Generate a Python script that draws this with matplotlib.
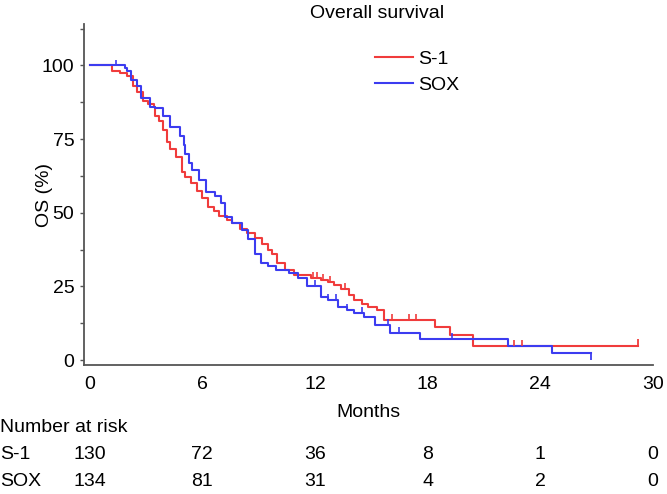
import numpy as np
import matplotlib
matplotlib.use("Agg")
from matplotlib import pyplot as plt
from matplotlib.transforms import blended_transform_factory

plt.rcParams['font.family'] = ['Liberation Sans', 'DejaVu Sans']

# Kaplan-Meier step knots (months, OS %)
s1_t = [0, 1.2, 1.6, 2.0, 2.3, 2.5, 2.85, 3.1, 3.4, 3.5, 3.7, 3.9, 4.1, 4.3, 4.6, 4.9,
        5.1, 5.4, 5.7, 6.0, 6.3, 6.6, 6.9, 7.3, 7.6, 8.0, 8.4, 8.8, 9.2, 9.5, 9.7, 10.0,
        10.4, 10.9, 11.8, 12.3, 12.7, 13.0, 13.4, 13.8, 14.1, 14.5, 14.8, 15.3, 15.7,
        18.4, 19.2, 20.4, 29.2]
s1_s = [100, 98, 97.5, 96.5, 93, 91, 88, 87, 86, 83, 81, 78, 74, 71.5, 69, 64,
        62, 60, 57.5, 55, 52, 50.5, 49, 47.5, 46.5, 44.5, 43, 41.5, 39.5, 37.5, 36, 33,
        30.6, 29, 28, 27.3, 26.5, 25.5, 24, 22, 20.4, 19, 18, 17, 13.6,
        11.3, 8.5, 4.8, 4.8]
s1_cens = [11.9, 12.1, 12.4, 12.8, 13.6, 16.1, 17.0, 17.4, 22.6, 23.0]

sox_t = [0, 1.9, 2.0, 2.2, 2.5, 2.75, 3.2, 3.5, 3.9, 4.3, 4.8, 5.0, 5.1, 5.3, 5.45,
         5.8, 6.2, 6.7, 7.0, 7.2, 7.6, 8.1, 8.45, 8.8, 9.15, 9.5, 9.9, 10.6, 11.1, 11.6,
         12.3, 12.7, 13.2, 13.7, 14.1, 14.6, 15.2, 16.0, 17.6, 22.3, 24.6, 26.7]
sox_s = [100, 99.3, 98, 95, 93, 89, 86, 85.7, 83, 79, 76, 73, 70, 67, 64.6,
         61, 57, 55.6, 53.4, 48.6, 46.6, 44, 41, 36, 33, 32, 30.6, 29.6, 28, 25,
         21.4, 20.4, 18, 17, 16, 14.6, 12, 9.2, 7.1, 4.8, 2.4, 2.4]
sox_cens = [1.4, 12.0, 12.7, 13.1, 13.7, 14.5, 15.9, 16.5, 19.3]

risk_times = [0, 6, 12, 18, 24, 30]
risk_s1 = [130, 72, 36, 8, 1, 0]
risk_sox = [134, 81, 31, 4, 2, 0]

red = '#f03c3c'
blue = '#3c3cf0'
fs = 14


def surv_at(times, surv, x):
    idx = np.searchsorted(times, x, side='right') - 1
    return np.array(surv)[idx]


fig = plt.figure(figsize=(6.67, 4.94), dpi=100)
ax = fig.add_axes([0.126, 0.261, 0.853, 0.69])

ax.plot(s1_t, s1_s, drawstyle='steps-post', color=red, lw=1.5, label='S-1')
ax.plot(sox_t, sox_s, drawstyle='steps-post', color=blue, lw=1.5, label='SOX')

# censor marks
ax.plot(s1_cens, surv_at(s1_t, s1_s, s1_cens) + 1.0, ls='none', marker='|',
        ms=4, mew=1.2, color=red)
ax.plot(sox_cens, surv_at(sox_t, sox_s, sox_cens) + 1.0, ls='none', marker='|',
        ms=4, mew=1.2, color=blue)
# end ticks
ax.plot([s1_t[-1]], [s1_s[-1] + 1.2], ls='none', marker='|', ms=5, mew=1.3, color=red)
ax.plot([sox_t[-1]], [sox_s[-1] - 1.2], ls='none', marker='|', ms=5, mew=1.3, color=blue)

ax.set_xlim(-0.3, 30)
ax.set_ylim(-1.7, 114)
ax.set_xticks(risk_times)
ax.set_yticks([0, 25, 50, 75, 100])
ax.set_yticks(np.arange(0, 113, 12.5), minor=True)
ax.tick_params(axis='x', length=0, pad=8, labelsize=fs)
ax.tick_params(axis='y', which='both', length=3, width=1, color='#555555', labelsize=fs, pad=4)
for side in ['top', 'right']:
    ax.spines[side].set_visible(False)
for side in ['left', 'bottom']:
    ax.spines[side].set_color('#555555')
    ax.spines[side].set_linewidth(1.3)

ax.set_xlabel('Months', fontsize=fs)
ax.xaxis.set_label_coords(0.5, -(39 / 341))
ax.set_ylabel('OS (%)', fontsize=fs)
ax.yaxis.set_label_coords(-(84 - 53) / 569, 0.5)
fig.text(0.565, 1 - 13 / 494, 'Overall survival', ha='center', va='center', fontsize=fs)

ax.legend(loc='upper left', bbox_to_anchor=(0.562, 0.899), bbox_transform=fig.transFigure,
          frameon=False, fontsize=fs, handlelength=1.95, handletextpad=0.25,
          labelspacing=0.44, borderaxespad=0, borderpad=0)

# number at risk table
tr = blended_transform_factory(ax.transData, fig.transFigure)
fig.text(0.0, 1 - 427 / 494, 'Number at risk', ha='left', va='center', fontsize=fs)
fig.text(0.0, 1 - 454 / 494, 'S-1', ha='left', va='center', fontsize=fs)
fig.text(0.0, 1 - 481 / 494, 'SOX', ha='left', va='center', fontsize=fs)
for t, a, b in zip(risk_times, risk_s1, risk_sox):
    ax.text(t, 1 - 454 / 494, str(a), transform=tr, ha='center', va='center', fontsize=fs)
    ax.text(t, 1 - 481 / 494, str(b), transform=tr, ha='center', va='center', fontsize=fs)

fig.savefig('out.png', dpi=100)
